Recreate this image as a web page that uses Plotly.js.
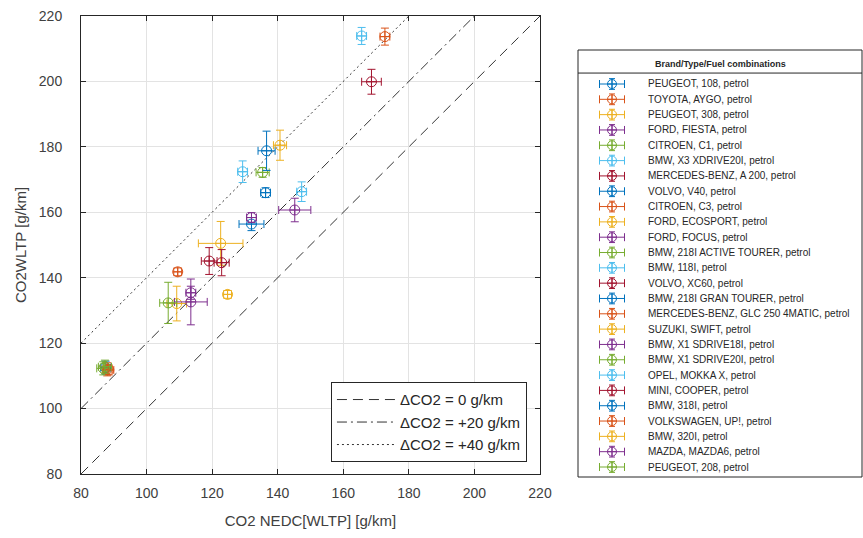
<!DOCTYPE html>
<html><head><meta charset="utf-8">
<script src="https://cdn.plot.ly/plotly-3.0.1.min.js"></script>
<style>html,body{margin:0;padding:0;background:#fff}#chart{width:863px;height:538px}</style>
</head><body><div id="chart"></div>
<script>
const names = [
  'PEUGEOT, 108, petrol','TOYOTA, AYGO, petrol','PEUGEOT, 308, petrol','FORD, FIESTA, petrol',
  'CITROEN, C1, petrol','BMW, X3 XDRIVE20I, petrol','MERCEDES-BENZ, A 200, petrol','VOLVO, V40, petrol',
  'CITROEN, C3, petrol','FORD, ECOSPORT, petrol','FORD, FOCUS, petrol','BMW, 218I ACTIVE TOURER, petrol',
  'BMW, 118I, petrol','VOLVO, XC60, petrol','BMW, 218I GRAN TOURER, petrol','MERCEDES-BENZ, GLC 250 4MATIC, petrol',
  'SUZUKI, SWIFT, petrol','BMW, X1 SDRIVE18I, petrol','BMW, X1 SDRIVE20I, petrol','OPEL, MOKKA X, petrol',
  'MINI, COOPER, petrol','BMW, 318I, petrol','VOLKSWAGEN, UP!, petrol','BMW, 320I, petrol',
  'MAZDA, MAZDA6, petrol','PEUGEOT, 208, petrol'
];
const nedc    = [87.5, 88.0, 109.2, 113.5, 86.8, 165.6, 119.1, 136.3, 109.5, 122.6, 113.5, 106.6, 129.3, 168.6, 132.0, 172.7, 124.7, 132.0, 135.4, 147.3, 122.9, 136.6, 88.5, 140.7, 145.2, 87.3];
const wltp    = [112.5, 112.0, 132.1, 135.4, 112.3, 213.9, 145.1, 166.0, 141.8, 150.5, 132.6, 132.3, 172.4, 199.9, 156.4, 213.7, 134.9, 158.4, 172.2, 166.3, 144.6, 178.8, 111.8, 180.5, 160.7, 112.8];
const nedcErr = [1.5, 1.5, 3.0, 1.5, 2.0, 1.5, 2.4, 1.5, 1.2, 6.8, 5.0, 2.6, 1.5, 3.0, 3.8, 1.5, 1.2, 1.5, 2.0, 1.5, 2.3, 2.6, 1.5, 2.0, 4.9, 2.0];
const wltpErr = [2.0, 2.0, 5.3, 2.0, 2.0, 2.6, 4.1, 1.5, 1.2, 6.7, 7.0, 6.3, 3.3, 3.8, 2.0, 2.6, 1.2, 1.5, 1.5, 3.0, 4.0, 6.0, 1.5, 4.6, 3.6, 2.0];

const palette = ['#0072BD','#D95319','#EDB120','#7E2F8E','#77AC30','#4DBEEE','#A2142F'];
const refOffsets = [0, 20, 40];
const refNames = ['ΔCO2 = 0 g/km','ΔCO2 = +20 g/km','ΔCO2 = +40 g/km'];
const refDash = ['10px,6px','10px,4px,2px,4px','2px,3px'];
const refX = [80, 220];
const xTicks = [80,100,120,140,160,180,200,220];
const yTicks = [80,100,120,140,160,180,200,220];

const traces = [];
refOffsets.forEach((off,k)=>{
  traces.push({
    x: refX, y: refX.map(v=>v+off), mode:'lines', name: refNames[k],
    line:{color:'#333333', width:1, dash:refDash[k]},
    legend:'legend2', showlegend:true, hoverinfo:'skip'
  });
});
names.forEach((n,i)=>{
  const c = palette[i%7];
  traces.push({
    x:[nedc[i]], y:[wltp[i]], mode:'markers', name:n, showlegend:false,
    marker:{symbol:'circle-cross-open', size:10, color:c, line:{width:1, color:c}},
    error_x:{type:'data', array:[nedcErr[i]], visible:true, color:c, thickness:1, width:4},
    error_y:{type:'data', array:[wltpErr[i]], visible:true, color:c, thickness:1, width:4}
  });
});
// custom legend glyphs
const legAnn = [];
names.forEach((n,i)=>{
  const c = palette[i%7];
  traces.push({
    x:[34], y:[i], xaxis:'x2', yaxis:'y2', mode:'markers', showlegend:false, hoverinfo:'skip',
    marker:{symbol:'circle-cross-open', size:9, color:c, line:{width:1, color:c}},
    error_x:{type:'constant', value:12.5, visible:true, color:c, thickness:1, width:4},
    error_y:{type:'constant', value:0.35, visible:true, color:c, thickness:1, width:3}
  });
  legAnn.push({x:68, y:i, xref:'x2', yref:'y2', text:n, showarrow:false, xanchor:'left', yanchor:'middle',
    font:{size:10, color:'#262626'}});
});
legAnn.push({x:0.5, y:0.967, xref:'x2 domain', yref:'y2 domain', text:'<b>Brand/Type/Fuel combinations</b>',
  showarrow:false, xanchor:'center', yanchor:'middle', font:{size:9, color:'#262626'}});

const axCommon = {
  ticks:'inside', ticklen:5, tickcolor:'#262626', showline:true, linecolor:'#262626', linewidth:1,
  mirror:'ticks', showgrid:true, gridcolor:'#e3e3e3', zeroline:false,
  tickfont:{size:14, color:'#404040', family:'Liberation Sans, Arial, sans-serif'}, fixedrange:true
};
const layout = {
  width:863, height:538, margin:{l:81, r:1, t:16, b:60},
  paper_bgcolor:'#fff', plot_bgcolor:'#fff',
  font:{family:'Liberation Sans, Arial, sans-serif', color:'#262626'},
  showlegend:true,
  xaxis:Object.assign({}, axCommon, {domain:[0, 459/781], range:[80,220], tickvals:xTicks, ticktext:xTicks.map(String),
    ticklabelstandoff:6, title:{text:'CO2 NEDC[WLTP] [g/km]', font:{size:15, color:'#404040'}, standoff:15}}),
  yaxis:Object.assign({}, axCommon, {domain:[4/462, 1], range:[80,220], tickvals:yTicks, ticktext:yTicks.map(String),
    ticklabelstandoff:15, title:{text:'CO2WLTP [g/km]', font:{size:15, color:'#404040'}, standoff:8}}),
  xaxis2:{domain:[(578-81)/781, 1], range:[0,284], visible:false, anchor:'y2', fixedrange:true},
  yaxis2:{domain:[1/462, 428/462], range:[25.653, -2.219], visible:false, anchor:'x2', fixedrange:true},
  legend2:{x:0.571, xanchor:'right', y:0.034, yanchor:'bottom', bgcolor:'#fff', bordercolor:'#262626', borderwidth:1,
    font:{size:15, color:'#262626'}, itemwidth:58, tracegroupgap:0},
  shapes:[
    {type:'rect', xref:'x2 domain', yref:'y2 domain', x0:0, x1:1, y0:0, y1:1, line:{color:'#262626', width:1}},
    {type:'line', xref:'x2 domain', yref:'y2 domain', x0:0, x1:1, y0:0.946, y1:0.946, line:{color:'#262626', width:1}}
  ],
  annotations:legAnn
};
Plotly.newPlot('chart', traces, layout, {displayModeBar:false, staticPlot:true});
</script></body></html>
